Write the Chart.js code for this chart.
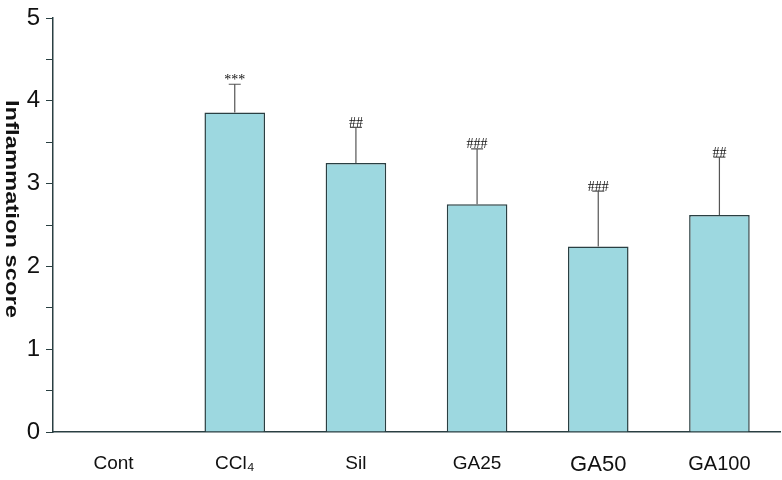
<!DOCTYPE html>
<html>
<head>
<meta charset="utf-8">
<script src="https://cdn.jsdelivr.net/npm/chart.js@4/dist/chart.umd.min.js"></script>
<style>
  body { margin: 0; background: #fff; }
  #wrap { width: 782px; height: 480px; }
</style>
</head>
<body>
<div id="wrap"><canvas id="myChart"></canvas></div>
<script>
var groups = ["Cont", "CCl\u2084", "Sil", "GA25", "GA50", "GA100"];
var scores = [0, 3.86, 3.25, 2.75, 2.24, 2.62];
var errUp = [0, 0.34, 0.43, 0.67, 0.67, 0.70];
var marks = ["", "***", "##", "###", "###", "##"];
var labelSizes = [19, 19, 19, 19, 22, 20];

// error bars (upper half only) plus significance marks
var errorPlugin = {
    id: 'errorBars',
    afterDatasetsDraw: function (chart) {
        var c = chart.ctx;
        var y = chart.scales.y;
        var meta = chart.getDatasetMeta(0);
        c.save();
        meta.data.forEach(function (bar, i) {
            if (!scores[i]) return;
            var yTop = y.getPixelForValue(scores[i] + errUp[i]);
            c.strokeStyle = '#555';
            c.lineWidth = 1.2;
            c.beginPath();
            c.moveTo(bar.x, bar.y);
            c.lineTo(bar.x, yTop);
            c.moveTo(bar.x - 6, yTop);
            c.lineTo(bar.x + 6, yTop);
            c.stroke();
            c.fillStyle = '#111';
            c.font = '14px "Liberation Serif"';
            c.textAlign = 'center';
            c.textBaseline = 'bottom';
            c.fillText(marks[i], bar.x, yTop + 3);
        });
        c.restore();
    }
};

// y title reads top to bottom in the original, so draw it rotated clockwise
var yTitlePlugin = {
    id: 'yTitle',
    afterDraw: function (chart) {
        var c = chart.ctx;
        var text = 'Inflammation score';
        c.save();
        c.font = 'bold 18px "Liberation Sans", Arial';
        var w = c.measureText(text).width;
        c.translate(11, 209);
        c.rotate(Math.PI / 2);
        c.scale(218 / w, 1);
        c.fillStyle = '#111';
        c.textAlign = 'center';
        c.textBaseline = 'middle';
        c.fillText(text, 0, 0);
        c.restore();
    }
};

var ctx = document.getElementById('myChart').getContext('2d');
var chart1 = new Chart(ctx, {
    type: 'bar',
    data: {
        labels: groups,
        datasets: [{
            data: scores,
            backgroundColor: '#9dd8e0',
            borderColor: '#2a3f42',
            borderWidth: 1.5,
            barPercentage: 0.5,
            categoryPercentage: 1.0
        }]
    },
    plugins: [errorPlugin, yTitlePlugin],
    options: {
        responsive: true,
        maintainAspectRatio: false,
        animation: false,
        layout: { padding: { top: 0, right: 2, left: 0, bottom: 0 } },
        plugins: {
            legend: { display: false },
            tooltip: { enabled: false }
        },
        scales: {
            x: {
                grid: { display: false, drawTicks: false },
                border: { color: '#2a3f42', width: 1.5 },
                ticks: {
                    color: '#111',
                    padding: 20,
                    font: function (c) {
                        return { family: '"Liberation Sans", Arial', size: labelSizes[c.index] || 19 };
                    }
                },
                afterFit: function (scale) { scale.height = 48; }
            },
            y: {
                min: 0,
                max: 5,
                afterBuildTicks: function (axis) {
                    var t = [];
                    for (var v = 0; v <= 5; v += 0.5) t.push({ value: v });
                    axis.ticks = t;
                },
                grid: { drawOnChartArea: false, tickLength: 7, color: '#2a3f42' },
                border: { color: '#2a3f42', width: 1.5 },
                title: {
                    display: true,
                    text: 'Inflammation score',
                    color: 'rgba(0,0,0,0)',
                    padding: { top: 0, bottom: 0 },
                    font: { family: '"Liberation Sans", Arial', size: 18, weight: 'bold' }
                },
                ticks: {
                    color: '#111',
                    padding: 6,
                    autoSkip: false,
                    font: { family: '"Liberation Sans", Arial', size: 24, lineHeight: 1.0 },
                    callback: function (v) { return v % 1 === 0 ? v : ''; }
                },
                afterFit: function (scale) { scale.width = 53; }
            }
        }
    }
});
</script>
</body>
</html>
